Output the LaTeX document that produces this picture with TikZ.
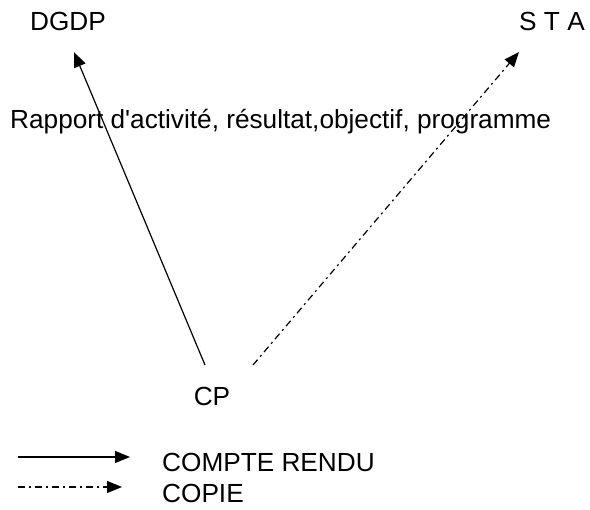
\documentclass[tikz,border=0pt]{standalone}
\usepackage{fontspec}
\setmainfont[Ligatures=TeXOff]{Liberation Sans}
\usetikzlibrary{arrows.meta}
\begin{document}
\begin{tikzpicture}[x=1pt,y=-1pt,
  lbl/.style={font=\fontsize{26.2}{30}\selectfont, inner sep=0pt},
  tip/.style={-{Triangle[length=15pt,width=12pt]}},
  solidarr/.style={tip, line width=1.2pt},
  copiearr/.style={tip, line width=1.2pt, dash pattern=on 7pt off 4pt on 2pt off 4pt}]
\useasboundingbox (0,0) rectangle (590,510);
\node[lbl] (dgdp) at (68,21) {DGDP};
\node[lbl] (sta) at (552,21) {S T A};
\node[lbl, anchor=base west] (txt) at (10,129) {Rapport d'activité, résultat,objectif, programme};
\node[lbl] (cp) at (212,396) {CP};
\coordinate (s1) at (205,365);
\coordinate (e1) at (74,52);
\coordinate (s2) at (253,365);
\coordinate (e2) at (519,52);
\draw[solidarr] (s1) -- (e1);
\draw[copiearr] (s2) -- (e2);
\coordinate (l1a) at (18,457);
\coordinate (l1b) at (130,457);
\coordinate (l2a) at (18,487);
\coordinate (l2b) at (122,487);
\draw[solidarr] (l1a) -- (l1b);
\draw[copiearr] (l2a) -- (l2b);
\node[lbl, anchor=base west] (cr) at (162,472) {COMPTE RENDU};
\node[lbl, anchor=base west] (cop) at (162,503) {COPIE};
\end{tikzpicture}
\end{document}
